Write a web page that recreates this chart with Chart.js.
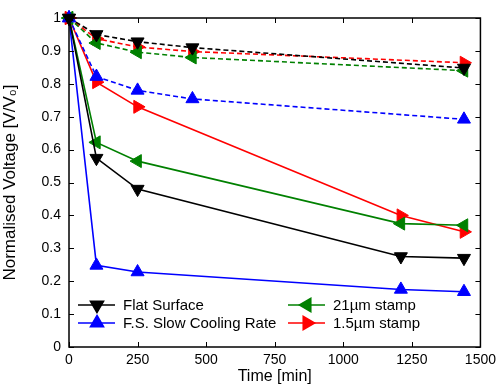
<!DOCTYPE html>
<html>
<head>
<meta charset="utf-8">
<script src="https://cdn.jsdelivr.net/npm/chart.js@4.4.0/dist/chart.umd.min.js"></script>
<style>
html, body { margin: 0; padding: 0; background: #fff; }
</style>
</head>
<body>
<canvas id="voltChart" width="501" height="386"></canvas>
<script>
// 測定時間
const timesSolid = [0, 100, 250, 1210, 1440];
const timesDashed = [0, 100, 250, 450, 1440];

// 実線 (凡例あり)
const flatSolid = [1, 0.574, 0.48, 0.275, 0.27];
const slowSolid = [1, 0.248, 0.228, 0.175, 0.168];
const stamp21Solid = [1, 0.622, 0.565, 0.375, 0.37];
const stamp15Solid = [1, 0.805, 0.73, 0.40, 0.35];

// 破線
const flatDashed = [1, 0.95, 0.928, 0.91, 0.848];
const slowDashed = [1, 0.822, 0.78, 0.754, 0.692];
const stamp21Dashed = [1, 0.924, 0.896, 0.88, 0.84];
const stamp15Dashed = [1, 0.937, 0.912, 0.898, 0.864];

const legendLabels = ['Flat Surface', 'F.S. Slow Cooling Rate', '21µm stamp', '1.5µm stamp'];
const xTicks = [0, 250, 500, 750, 1000, 1250, 1500];

const toPts = (xs, ys) => xs.map((x, i) => ({ x: x, y: ys[i] }));

function series(label, xs, ys, color, rot, dashed, inLegend) {
    return {
        label: label,
        data: toPts(xs, ys),
        borderColor: color,
        backgroundColor: color,
        borderWidth: 1.6,
        borderDash: dashed ? [5, 3] : [],
        pointStyle: 'triangle',
        rotation: rot,
        pointRadius: 7.5,
        pointBorderWidth: 1,
        pointBorderColor: color,
        pointBackgroundColor: color,
        showInLegend: inLegend,
        clip: false
    };
}

const black = '#000000', blue = '#0000ff', green = '#008000', red = '#ff0000';
const font = '"Liberation Sans", Arial, sans-serif';

// 枠と内向きの目盛り、凡例
const framePlugin = {
    id: 'frame',
    afterDraw(chart) {
        const ctx = chart.ctx;
        const a = chart.chartArea;
        const xs = chart.scales.x, ys = chart.scales.y;
        ctx.save();
        ctx.strokeStyle = '#000';
        ctx.lineWidth = 1;
        ctx.beginPath();
        xTicks.forEach(v => {
            const px = Math.round(xs.getPixelForValue(v)) + 0.5;
            ctx.moveTo(px, a.bottom); ctx.lineTo(px, a.bottom - 5);
            ctx.moveTo(px, a.top); ctx.lineTo(px, a.top + 5);
        });
        for (let i = 0; i <= 10; i++) {
            const py = Math.round(ys.getPixelForValue(i / 10)) + 0.5;
            ctx.moveTo(a.left, py); ctx.lineTo(a.left + 5, py);
            ctx.moveTo(a.right, py); ctx.lineTo(a.right - 5, py);
        }
        ctx.stroke();
        ctx.lineWidth = 1.5;
        ctx.strokeRect(a.left, a.top, a.right - a.left, a.bottom - a.top);

        // 凡例
        const items = chart.data.datasets.filter(d => d.showInLegend);
        const cols = [a.left + 9, a.left + 219];
        const rows = [a.bottom - 42, a.bottom - 24];
        ctx.font = '15px ' + font;
        ctx.textBaseline = 'middle';
        items.forEach((d, i) => {
            const x0 = i < 2 ? cols[0] : cols[1];
            const y0 = rows[i % 2];
            ctx.strokeStyle = d.borderColor;
            ctx.lineWidth = 1.6;
            ctx.setLineDash([]);
            ctx.beginPath();
            ctx.moveTo(x0, y0); ctx.lineTo(x0 + 37, y0);
            ctx.stroke();
            Chart.helpers.drawPoint(ctx, {
                pointStyle: 'triangle', rotation: d.rotation, radius: 7.5, borderWidth: 1
            }, x0 + 19, y0);
            ctx.fillStyle = d.borderColor;
            ctx.fill();
            ctx.fillStyle = '#000';
            ctx.fillText(d.label, x0 + 45, y0 + 1);
        });
        ctx.restore();
    }
};

const ctx = document.getElementById('voltChart').getContext('2d');
const chart = new Chart(ctx, {
    type: 'line',
    data: {
        datasets: [
            series('Flat Surface dashed', timesDashed, flatDashed, black, 180, true, false),
            series('Slow dashed', timesDashed, slowDashed, blue, 0, true, false),
            series('21 dashed', timesDashed, stamp21Dashed, green, -90, true, false),
            series('1.5 dashed', timesDashed, stamp15Dashed, red, 90, true, false),
            series(legendLabels[0], timesSolid, flatSolid, black, 180, false, true),
            series(legendLabels[1], timesSolid, slowSolid, blue, 0, false, true),
            series(legendLabels[2], timesSolid, stamp21Solid, green, -90, false, true),
            series(legendLabels[3], timesSolid, stamp15Solid, red, 90, false, true)
        ]
    },
    options: {
        responsive: false,
        animation: false,
        layout: { padding: { left: 0, top: 18, right: 17, bottom: 0 } },
        plugins: { legend: { display: false }, tooltip: { enabled: false } },
        scales: {
            x: {
                type: 'linear',
                min: 0, max: 1500,
                afterBuildTicks: s => { s.ticks = xTicks.map(v => ({ value: v })); },
                afterFit: s => { s.height = 39; },
                grid: { display: false, drawTicks: false },
                border: { display: false },
                ticks: {
                    color: '#000', padding: 5,
                    callback: v => String(v),
                    font: { family: font, size: 14 }
                },
                title: {
                    display: true, text: 'Time [min]', color: '#000',
                    padding: { top: -3, bottom: 0 },
                    font: { family: font, size: 16 }
                }
            },
            y: {
                min: 0, max: 1,
                afterFit: s => { s.width = 69; },
                grid: { display: false, drawTicks: false },
                border: { display: false },
                ticks: {
                    stepSize: 0.1, color: '#000', padding: 8,
                    callback: v => String(Math.round(v * 10) / 10),
                    font: { family: font, size: 14 }
                },
                title: {
                    display: true, text: 'Normalised Voltage [V/V₀]', color: '#000',
                    padding: { top: 0, bottom: 1 },
                    font: { family: font, size: 17 }
                }
            }
        }
    },
    plugins: [framePlugin]
});
</script>
</body>
</html>
